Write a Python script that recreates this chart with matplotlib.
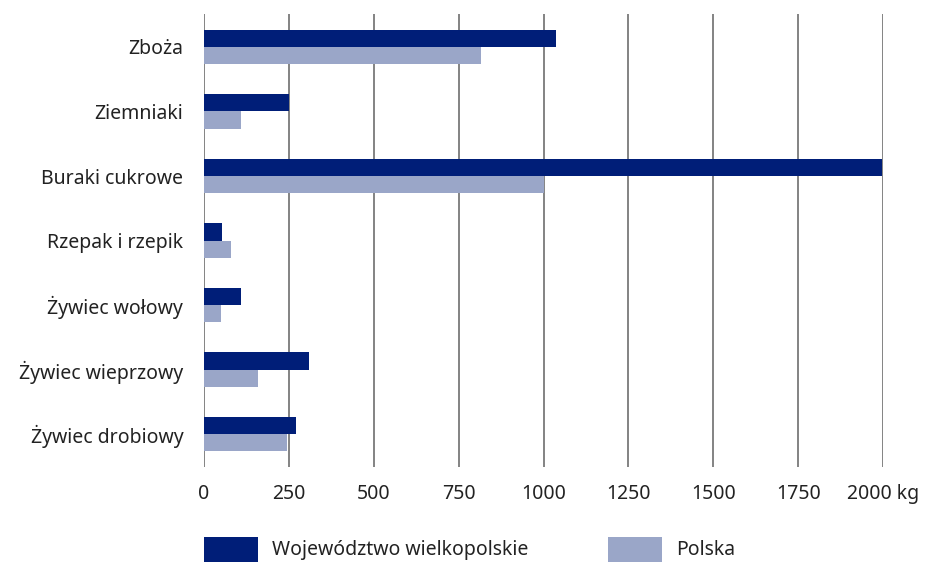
import numpy as np
import matplotlib
matplotlib.use('Agg')
import matplotlib.pyplot as plt
from matplotlib.patches import Rectangle

categories = ['Zboża', 'Ziemniaki', 'Buraki cukrowe', 'Rzepak i rzepik',
              'Żywiec wołowy', 'Żywiec wieprzowy', 'Żywiec drobiowy']
wielkopolska = [1037, 250, 1998, 53, 109, 309, 271]
polska = [816, 109, 1000, 80, 50, 159, 244]
xticks = [0, 250, 500, 750, 1000, 1250, 1500, 1750, 2000]
xtick_labels = ['0', '250', '500', '750', '1000', '1250', '1500', '1750', '2000 kg']

dark = '#001e78'
light = '#9aa6c8'

plt.rcParams['font.family'] = ['Noto Sans', 'DejaVu Sans']

fig = plt.figure(figsize=(9.39, 5.62), dpi=100)
ax = fig.add_axes([0.2173, 0.169, 0.7231, 0.806])

y = np.arange(len(categories))
h = 0.265
ax.barh(y - h / 2, wielkopolska, height=h, color=dark, zorder=3)
ax.barh(y + h / 2, polska, height=h, color=light, zorder=3)

ax.set_xlim(0, 2000)
ax.set_ylim(len(categories) - 0.49, -0.51)
ax.set_yticks(y)
ax.set_yticklabels(categories)
ax.set_xticks(xticks)
ax.set_xticklabels(xtick_labels)
ax.tick_params(axis='both', length=0, labelsize=14, colors='#222222')
ax.tick_params(axis='y', pad=15)
ax.tick_params(axis='x', pad=12)
ax.xaxis.grid(True, color='#6e6e6e', linewidth=1.2, zorder=0)
for s in ax.spines.values():
    s.set_visible(False)

# legend drawn by hand, boxes run off the bottom edge like in the original
legend_items = [('Województwo wielkopolskie', dark, 0.2173),
                ('Polska', light, 0.6475)]
for label, color, x0 in legend_items:
    fig.patches.append(Rectangle((x0, -0.01), 0.0575, 0.0545, facecolor=color,
                                 transform=fig.transFigure, figure=fig))
    fig.text(x0 + 0.0724, 0.0214, label, fontsize=14, color='#222222', va='center')

fig.savefig('out.png', dpi=100)
